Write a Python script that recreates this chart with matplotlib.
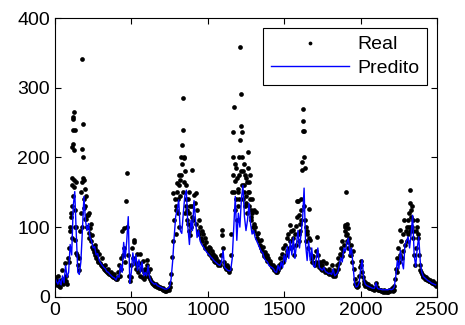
import numpy as np
import matplotlib
matplotlib.use("Agg")
import matplotlib.pyplot as plt

plt.rcParams['font.family'] = ['Liberation Sans', 'DejaVu Sans']

# Real observations, one value every 5 days (day 0 .. 2495)
real = [
    28, 24, 20, 17, 30, 22, 16, 14, 24, 38, 21, 18, 26, 48, 30, 22, 18, 55, 70, 50,
    95, 120, 160, 215, 255, 265, 240, 165, 100, 60, 45, 38, 55, 95, 150, 212, 342, 248, 168, 155,
    130, 112, 100, 118, 92, 85, 98, 80, 72, 88, 68, 64, 75, 60, 56, 66, 52, 50, 62, 48,
    46, 44, 55, 42, 40, 38, 45, 37, 35, 34, 40, 33, 32, 31, 36, 30, 29, 28, 33, 27,
    26, 25, 35, 28, 45, 30, 55, 40, 95, 60, 98, 70, 50, 138, 177, 100, 60, 30, 22, 28,
    45, 70, 55, 82, 78, 50, 40, 62, 45, 35, 48, 30, 62, 40, 28, 52, 35, 26, 40, 30,
    45, 53, 35, 28, 40, 25, 22, 20, 18, 19, 17, 16, 18, 15, 14, 16, 13, 14, 12, 13,
    11, 12, 10, 9, 8, 10, 8, 9, 11, 10, 14, 20, 32, 57, 80, 149, 110, 141, 90, 125,
    163, 120, 100, 175, 168, 201, 218, 240, 285, 199, 180, 160, 130, 110, 140, 95, 120, 88, 100, 130,
    182, 110, 146, 134, 149, 105, 125, 95, 110, 90, 100, 85, 95, 80, 90, 75, 85, 70, 78, 68,
    65, 72, 62, 70, 58, 66, 55, 62, 52, 58, 50, 55, 48, 52, 46, 50, 45, 60, 96, 88,
    70, 50, 44, 42, 40, 45, 38, 42, 36, 40, 60, 90, 150, 236, 273, 190, 166, 140, 110, 130,
    150, 200, 359, 291, 245, 236, 180, 150, 160, 130, 170, 120, 150, 208, 165, 140, 125, 110, 120, 100,
    105, 95, 100, 122, 90, 85, 92, 80, 75, 82, 70, 66, 72, 62, 58, 64, 55, 60, 52, 56,
    50, 48, 52, 45, 42, 46, 40, 38, 42, 36, 35, 40, 38, 45, 42, 55, 48, 62, 50, 70,
    55, 75, 60, 85, 65, 90, 70, 103, 80, 95, 72, 96, 85, 60, 90, 75, 101, 137, 138, 80,
    90, 105, 125, 194, 269, 252, 238, 185, 100, 80, 95, 70, 126, 85, 82, 60, 55, 50, 58, 48,
    45, 50, 65, 86, 60, 45, 42, 50, 40, 38, 45, 52, 40, 38, 36, 48, 35, 34, 40, 33,
    35, 32, 45, 34, 30, 38, 32, 30, 35, 45, 40, 55, 48, 62, 70, 58, 80, 65, 75, 100,
    103, 150, 80, 99, 70, 85, 60, 75, 60, 50, 65, 40, 25, 18, 15, 14, 16, 20, 30, 42,
    52, 45, 35, 28, 22, 18, 16, 20, 15, 14, 18, 13, 12, 15, 12, 11, 13, 11, 10, 12,
    20, 14, 11, 10, 9, 10, 8, 9, 8, 7, 8, 9, 7, 8, 7, 8, 7, 9, 8, 10,
    9, 12, 8, 15, 10, 25, 40, 55, 35, 70, 50, 96, 60, 80, 55, 90, 65, 110, 75, 95,
    80, 100, 90, 120, 95, 153, 125, 100, 110, 85, 60, 45, 70, 95, 110, 85, 60, 45, 38, 35,
    32, 30, 28, 30, 26, 28, 25, 24, 26, 23, 22, 24, 21, 20, 22, 19, 18, 20, 17, 16,
]
real_days = np.arange(len(real)) * 5

# Additional daily observations around the flood peaks
extra_days = [102, 106, 110, 112, 114, 116, 118, 119, 121, 123, 126, 127, 129, 131, 133, 136,
              172, 177, 178, 182, 186, 188, 192, 197, 202, 207, 213, 225, 235, 262,
              790, 798, 805, 812, 818, 826, 832, 836, 842, 846, 852, 858, 864, 872, 880, 885, 895,
              1163, 1168, 1172, 1178, 1183, 1188, 1195, 1203, 1207, 1213, 1217, 1222, 1227, 1232,
              1238, 1243, 1248, 1253, 1258, 1262, 1268, 1272, 1278, 1283, 1290, 1300,
              1583, 1595, 1603, 1608, 1612, 1618, 1622, 1627, 1632, 1638, 1648,
              1895, 1903, 1908, 1913, 1918,
              2310, 2318, 2322, 2327, 2332, 2338, 2343, 2368, 2372]
extra_values = [100, 115, 130, 85, 170, 145, 220, 240, 258, 168, 210, 158, 125, 100, 82, 63,
                120, 165, 100, 170, 200, 140, 128, 112, 145, 100, 118, 120, 105, 70,
                130, 150, 140, 160, 145, 175, 190, 150, 200, 165, 120, 140, 125, 105, 150, 130, 115,
                175, 200, 150, 125, 185, 170, 155, 175, 140, 225, 180, 200, 160, 140,
                190, 175, 145, 135, 165, 185, 150, 130, 175, 115, 140, 125,
                115, 118, 95, 140, 110, 182, 238, 200, 130, 110, 90,
                95, 88, 105, 90, 78,
                110, 100, 135, 115, 100, 130, 95, 100, 90]

# Predicted series, one value every 10 days (day 0 .. 2490)
predito = [
    28, 22, 18, 25, 17, 30, 20, 45, 28, 35,
    75, 60, 130, 151, 90, 35, 32, 50, 95, 144,
    110, 95, 105, 85, 80, 70, 72, 60, 62, 52,
    48, 45, 42, 40, 36, 35, 32, 30, 28, 27,
    24, 30, 28, 45, 35, 78, 55, 80, 115, 19,
    35, 63, 45, 60, 38, 53, 35, 50, 30, 35,
    30, 45, 28, 22, 20, 18, 19, 16, 15, 14,
    13, 12, 11, 11, 12, 14, 25, 50, 85, 115,
    125, 139, 95, 91, 120, 145, 153, 100, 75, 110,
    95, 138, 110, 85, 95, 80, 75, 72, 68, 65,
    62, 60, 57, 55, 52, 50, 48, 46, 45, 50,
    67, 42, 40, 38, 37, 38, 55, 100, 144, 81,
    120, 100, 140, 160, 115, 95, 110, 134, 105, 90,
    95, 85, 80, 75, 70, 65, 63, 55, 52, 50,
    45, 43, 42, 40, 36, 35, 45, 38, 50, 42,
    60, 50, 72, 55, 80, 60, 85, 55, 75, 95,
    70, 90, 110, 156, 75, 52, 80, 52, 70, 45,
    42, 55, 70, 42, 40, 38, 42, 36, 35, 33,
    34, 32, 40, 30, 32, 35, 45, 56, 50, 70,
    65, 78, 84, 60, 70, 45, 20, 14, 15, 20,
    40, 53, 25, 18, 16, 15, 14, 13, 12, 12,
    20, 12, 11, 11, 10, 10, 10, 10, 10, 11,
    10, 11, 14, 30, 52, 40, 67, 50, 40, 75,
    80, 86, 70, 90, 117, 60, 43, 70, 86, 50,
    35, 29, 27, 25, 23, 22, 20, 19, 18, 17,
]
predito_days = np.arange(len(predito)) * 10

fig = plt.figure(figsize=(4.65, 3.25), dpi=100)
ax = fig.add_axes([0.118, 0.087, 0.822, 0.857])

ax.plot(list(real_days) + extra_days, real + extra_values, 'o', color='black',
        markersize=3.4, markeredgewidth=0, linestyle='none', label='Real')
ax.plot(predito_days, predito, '-', color='blue', linewidth=1.0, label='Predito')

ax.set_xlim(0, 2500)
ax.set_ylim(0, 400)
ax.set_xticks([0, 500, 1000, 1500, 2000, 2500])
ax.set_yticks([0, 100, 200, 300, 400])
ax.tick_params(direction='in', top=True, right=True, labelsize=14, length=4, width=0.8)
for s in ax.spines.values():
    s.set_linewidth(0.8)

leg = ax.legend(loc='upper right', fontsize=14, frameon=True, fancybox=False,
                edgecolor='black', framealpha=1, handlelength=4.0, handletextpad=0.45,
                labelspacing=0.3, borderpad=0.4, borderaxespad=0.5, markerscale=0.8)
leg.get_frame().set_linewidth(0.8)

fig.savefig('out.png', dpi=100)
